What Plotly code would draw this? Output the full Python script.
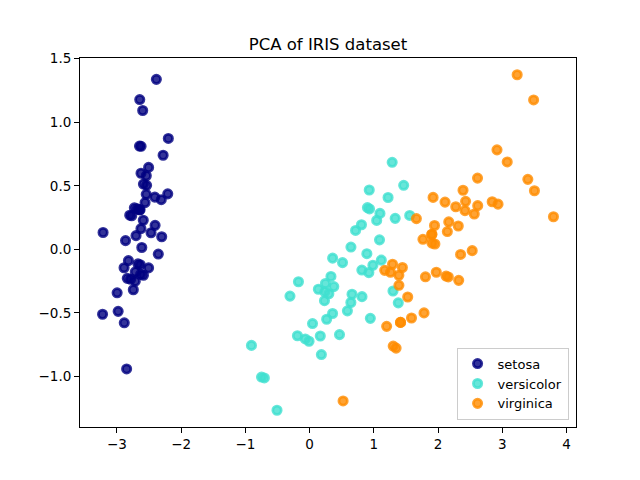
import plotly.graph_objects as go

# PCA projection of the iris data (component 1, component 2)
setosa_x = [-2.684, -2.714, -2.889, -2.745, -2.729, -2.281, -2.821, -2.626, -2.886, -2.673,
            -2.507, -2.613, -2.786, -3.224, -2.645, -2.386, -2.624, -2.648, -2.200, -2.588,
            -2.310, -2.544, -3.216, -2.303, -2.356, -2.507, -2.469, -2.562, -2.640, -2.632,
            -2.587, -2.410, -2.649, -2.599, -2.637, -2.866, -2.625, -2.801, -2.981, -2.590,
            -2.770, -2.849, -2.997, -2.406, -2.209, -2.714, -2.538, -2.839, -2.543, -2.703]
setosa_y = [0.319, -0.177, -0.145, -0.318, 0.327, 0.741, -0.089, 0.163, -0.578, -0.114,
            0.645, 0.015, -0.235, -0.511, 1.179, 1.338, 0.811, 0.312, 0.873, 0.514,
            0.391, 0.433, 0.133, 0.099, -0.037, -0.146, 0.131, 0.368, 0.312, -0.197,
            -0.204, 0.411, 0.813, 1.093, -0.121, 0.069, 0.599, 0.269, -0.488, 0.229,
            0.264, -0.941, -0.342, 0.189, 0.437, -0.250, 0.504, -0.228, 0.579, 0.108]

versicolor_x = [1.285, 0.932, 1.464, 0.183, 1.088, 0.642, 1.095, -0.749, 1.044, -0.009,
                -0.508, 0.512, 0.265, 0.985, -0.174, 0.928, 0.660, 0.236, 0.945, 0.045,
                1.116, 0.358, 1.298, 0.922, 0.715, 0.900, 1.332, 1.558, 0.813, -0.306,
                -0.068, -0.190, 0.136, 1.380, 0.588, 0.807, 1.221, 0.815, 0.246, 0.166,
                0.465, 0.891, 0.231, -0.705, 0.357, 0.332, 0.376, 0.643, -0.906, 0.299]
versicolor_y = [0.685, 0.318, 0.504, -0.828, 0.075, -0.418, 0.283, -1.005, 0.228, -0.723,
                -1.266, -0.104, -0.550, -0.125, -0.255, 0.467, -0.353, -0.334, -0.543, -0.584,
                -0.085, -0.069, -0.328, -0.183, 0.149, 0.329, 0.244, 0.267, -0.163, -0.368,
                -0.705, -0.680, -0.314, -0.421, -0.484, 0.194, 0.408, -0.372, -0.269, -0.682,
                -0.671, -0.034, -0.404, -1.012, -0.505, -0.213, -0.293, 0.018, -0.756, -0.349]

virginica_x = [2.531, 1.415, 2.617, 1.972, 2.350, 3.397, 0.521, 2.933, 2.321, 2.917,
               1.662, 1.803, 2.166, 1.346, 1.586, 1.904, 1.950, 3.487, 3.796, 1.301,
               2.428, 1.199, 3.500, 1.389, 2.275, 2.614, 1.259, 1.291, 2.124, 2.388,
               2.842, 3.231, 2.159, 1.444, 1.781, 3.076, 2.144, 1.905, 1.169, 2.108,
               2.314, 1.922, 1.415, 2.563, 2.419, 1.944, 1.527, 1.764, 1.901, 1.390]
virginica_y = [-0.010, -0.575, 0.344, -0.180, -0.040, 0.551, -1.193, 0.356, -0.244, 0.783,
               0.242, -0.216, 0.216, -0.777, -0.540, 0.119, 0.042, 1.176, 0.257, -0.761,
               0.378, -0.606, 0.461, -0.204, 0.335, 0.561, -0.180, -0.117, -0.210, 0.465,
               0.375, 1.374, -0.217, -0.143, -0.500, 0.688, 0.140, 0.049, -0.165, 0.372,
               0.184, 0.409, -0.575, 0.278, 0.305, 0.188, -0.375, 0.079, 0.117, -0.283]

names = ["setosa", "versicolor", "virginica"]
# navy, turquoise, darkorange at alpha 0.8 (fill and edge separately, like matplotlib)
colors = ["rgba(0,0,128,0.8)", "rgba(64,224,208,0.8)", "rgba(255,140,0,0.8)"]
xs = [setosa_x, versicolor_x, virginica_x]
ys = [setosa_y, versicolor_y, virginica_y]

fig = go.Figure()
for name, color, x, y in zip(names, colors, xs, ys):
    fig.add_trace(go.Scatter(x=x, y=y, mode="markers", name=name,
                             marker=dict(color=color, size=8.3,
                                         line=dict(color=color, width=2.8))))

axis_style = dict(showline=True, linecolor="black", linewidth=1, mirror=True,
                  ticks="outside", ticklen=5, tickwidth=1, tickcolor="black",
                  showgrid=False, zeroline=False, automargin=False,
                  tickfont=dict(size=13.5, color="black"))

fig.update_xaxes(range=[-3.575, 4.147], tickvals=[-3, -2, -1, 0, 1, 2, 3, 4], **axis_style)
fig.update_yaxes(range=[-1.398, 1.506], tickvals=[-1.0, -0.5, 0.0, 0.5, 1.0, 1.5],
                 tickformat=".1f", **axis_style)

# the page body adds an 8px offset, so the figure is 632x472
fig.update_layout(
    title=dict(text="PCA of IRIS dataset", x=0.5, xref="paper", xanchor="center",
               y=1 - 36 / 472, yref="container", yanchor="middle", automargin=False,
               font=dict(size=16.5, color="black")),
    font=dict(family="DejaVu Sans", color="black"),
    width=632, height=472,
    margin=dict(l=72, r=64, t=50, b=53, autoexpand=False),
    plot_bgcolor="white", paper_bgcolor="white",
    legend=dict(x=0.985, y=0.02, xanchor="right", yanchor="bottom",
                bgcolor="rgba(255,255,255,0.8)", bordercolor="#cccccc", borderwidth=1,
                font=dict(size=13), itemwidth=30, tracegroupgap=0),
)

fig.write_html("out.html")
